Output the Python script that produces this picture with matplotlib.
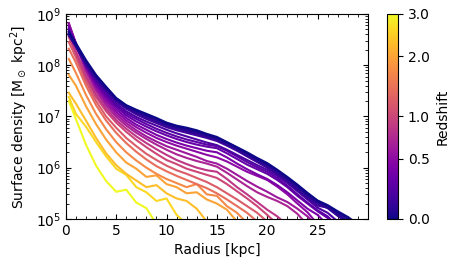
import numpy as np
import matplotlib
matplotlib.use("Agg")
import matplotlib.pyplot as plt
from matplotlib import cm, colors

# radius grid [kpc]: first point near the centre, then 1 kpc steps
RADIUS = [0.3] + list(range(1, 30))

# redshift of each snapshot
REDSHIFT = [3.0, 2.6, 2.3, 2.0, 1.7, 1.4, 1.2, 1.0, 0.85, 0.7,
            0.6, 0.5, 0.4, 0.3, 0.25, 0.2, 0.15, 0.1, 0.07, 0.03, 0.0]

# log10 surface density [Msun kpc^-2] on RADIUS (truncated once below 1e5)
LOG_SIGMA = [
    [7.30, 6.95, 6.45, 6.04, 5.74, 5.53, 5.57, 5.32, 5.21, 4.90],
    [7.38, 7.05, 6.80, 6.50, 6.22, 5.98, 5.86, 5.62, 5.52, 5.35, 5.40, 5.08, 4.90],
    [7.46, 7.25, 6.92, 6.58, 6.28, 6.05, 5.88, 5.75, 5.62, 5.66, 5.50, 5.40, 5.35, 5.20, 4.95],
    [7.81, 7.60, 7.20, 6.85, 6.55, 6.30, 6.10, 5.98, 5.82, 5.85, 5.68, 5.62, 5.50, 5.52,
     5.38, 5.30, 5.18, 4.95],
    [8.12, 7.85, 7.42, 7.05, 6.75, 6.50, 6.30, 6.14, 6.00, 5.88, 5.78, 5.70, 5.62, 5.68,
     5.48, 5.45, 5.25, 5.12, 4.92],
    [8.32, 8.05, 7.60, 7.22, 6.92, 6.68, 6.48, 6.31, 6.16, 6.03, 5.93, 5.84, 5.76, 5.68,
     5.60, 5.50, 5.38, 5.25, 5.12, 4.95],
    [8.45, 8.15, 7.68, 7.30, 7.00, 6.78, 6.58, 6.42, 6.27, 6.15, 6.04, 5.95, 5.88, 5.80,
     5.72, 5.62, 5.50, 5.38, 5.25, 5.12, 4.95],
    [8.55, 8.22, 7.75, 7.38, 7.10, 6.88, 6.70, 6.54, 6.40, 6.27, 6.15, 6.07, 5.98, 5.92,
     5.86, 5.80, 5.68, 5.54, 5.40, 5.25, 5.08, 4.90],
    [8.62, 8.28, 7.80, 7.43, 7.15, 6.93, 6.76, 6.61, 6.48, 6.36, 6.25, 6.15, 6.07, 6.00,
     5.95, 5.92, 5.78, 5.62, 5.48, 5.33, 5.18, 5.05, 4.88],
    [8.80, 8.40, 7.88, 7.50, 7.21, 6.99, 6.82, 6.68, 6.56, 6.45, 6.35, 6.26, 6.19, 6.13,
     6.08, 6.02, 5.90, 5.77, 5.64, 5.52, 5.43, 5.35, 5.25, 5.10, 4.88],
    [8.82, 8.42, 7.92, 7.54, 7.26, 7.04, 6.87, 6.73, 6.61, 6.51, 6.42, 6.35, 6.28, 6.21,
     6.13, 6.08, 5.98, 5.86, 5.74, 5.63, 5.53, 5.42, 5.33, 5.20, 5.05, 4.85],
    [8.80, 8.43, 7.95, 7.58, 7.31, 7.09, 6.92, 6.79, 6.68, 6.58, 6.50, 6.43, 6.37, 6.31,
     6.25, 6.20, 6.12, 6.02, 5.92, 5.84, 5.76, 5.63, 5.48, 5.30, 5.13, 4.90],
    [8.76, 8.42, 7.97, 7.62, 7.36, 7.14, 6.97, 6.84, 6.74, 6.64, 6.56, 6.49, 6.43, 6.38,
     6.33, 6.30, 6.20, 6.08, 5.97, 5.87, 5.78, 5.66, 5.52, 5.36, 5.20, 5.08, 4.88],
    [8.72, 8.40, 7.98, 7.65, 7.40, 7.19, 7.02, 6.90, 6.80, 6.71, 6.63, 6.56, 6.50, 6.45,
     6.41, 6.38, 6.28, 6.17, 6.06, 5.97, 5.88, 5.76, 5.62, 5.45, 5.30, 5.15, 5.02, 4.85],
    [8.70, 8.40, 8.00, 7.68, 7.43, 7.22, 7.06, 6.95, 6.85, 6.76, 6.68, 6.61, 6.55, 6.50,
     6.45, 6.42, 6.33, 6.22, 6.11, 6.01, 5.92, 5.80, 5.65, 5.48, 5.32, 5.17, 5.05, 4.85],
    [8.66, 8.38, 8.00, 7.70, 7.46, 7.25, 7.10, 6.99, 6.90, 6.82, 6.74, 6.67, 6.61, 6.55,
     6.49, 6.44, 6.35, 6.25, 6.15, 6.05, 5.96, 5.84, 5.70, 5.54, 5.38, 5.22, 5.12, 4.95],
    [8.62, 8.37, 8.02, 7.73, 7.50, 7.29, 7.15, 7.04, 6.95, 6.87, 6.79, 6.73, 6.68, 6.63,
     6.58, 6.52, 6.43, 6.33, 6.22, 6.11, 6.00, 5.87, 5.72, 5.56, 5.40, 5.26, 5.22, 5.10, 4.90],
    [8.58, 8.36, 8.03, 7.75, 7.52, 7.31, 7.17, 7.07, 6.98, 6.90, 6.82, 6.76, 6.71, 6.66,
     6.60, 6.55, 6.45, 6.35, 6.24, 6.13, 6.02, 5.89, 5.75, 5.58, 5.43, 5.30, 5.21, 5.06, 4.92],
    [8.60, 8.38, 8.05, 7.77, 7.54, 7.33, 7.19, 7.09, 7.01, 6.93, 6.84, 6.78, 6.73, 6.68,
     6.62, 6.56, 6.47, 6.37, 6.26, 6.15, 6.05, 5.92, 5.77, 5.62, 5.46, 5.33, 5.23, 5.10, 4.95],
    [8.62, 8.40, 8.07, 7.79, 7.56, 7.35, 7.21, 7.11, 7.03, 6.95, 6.86, 6.80, 6.76, 6.71,
     6.64, 6.58, 6.49, 6.39, 6.28, 6.17, 6.07, 5.94, 5.80, 5.65, 5.49, 5.35, 5.25, 5.13,
     5.00, 4.85],
    [8.65, 8.43, 8.10, 7.81, 7.58, 7.36, 7.22, 7.13, 7.05, 6.97, 6.88, 6.82, 6.78, 6.73,
     6.66, 6.60, 6.50, 6.40, 6.30, 6.19, 6.09, 5.96, 5.82, 5.67, 5.51, 5.36, 5.27, 5.15,
     5.04, 4.90],
]

CBAR_TICKS = [0.0, 0.5, 1.0, 2.0, 3.0]

fig = plt.figure(figsize=(4.57, 2.67), dpi=100)
ax = fig.add_axes([0.144, 0.18, 0.661, 0.768])
cax = fig.add_axes([0.847, 0.18, 0.024, 0.768])

# colour by log10(1+z)
norm = colors.Normalize(vmin=0.0, vmax=np.log10(1 + max(REDSHIFT)))
cmap = plt.get_cmap("plasma")

for z, ls in zip(REDSHIFT, LOG_SIGMA):
    r = np.array(RADIUS[:len(ls)], dtype=float)
    ax.plot(r, 10 ** np.array(ls), color=cmap(norm(np.log10(1 + z))), lw=1.5)

ax.set_yscale("log")
ax.set_xlim(0, 30)
ax.set_ylim(1e5, 1e9)
ax.set_xticks([0, 5, 10, 15, 20, 25])
ax.xaxis.set_minor_locator(matplotlib.ticker.MultipleLocator(1))
ax.tick_params(which="both", direction="in", top=True, right=True, labelsize=10)
ax.set_xlabel("Radius [kpc]", fontsize=10)
ax.set_ylabel(r"Surface density [M$_\odot$ kpc$^2$]", fontsize=10)

sm = cm.ScalarMappable(norm=norm, cmap=cmap)
cb = fig.colorbar(sm, cax=cax)
cb.set_ticks([np.log10(1 + t) for t in CBAR_TICKS])
cb.set_ticklabels([f"{t:.1f}" for t in CBAR_TICKS])
cb.ax.tick_params(labelsize=10)
cb.set_label("Redshift", fontsize=10)

fig.savefig("out.png", dpi=100)
